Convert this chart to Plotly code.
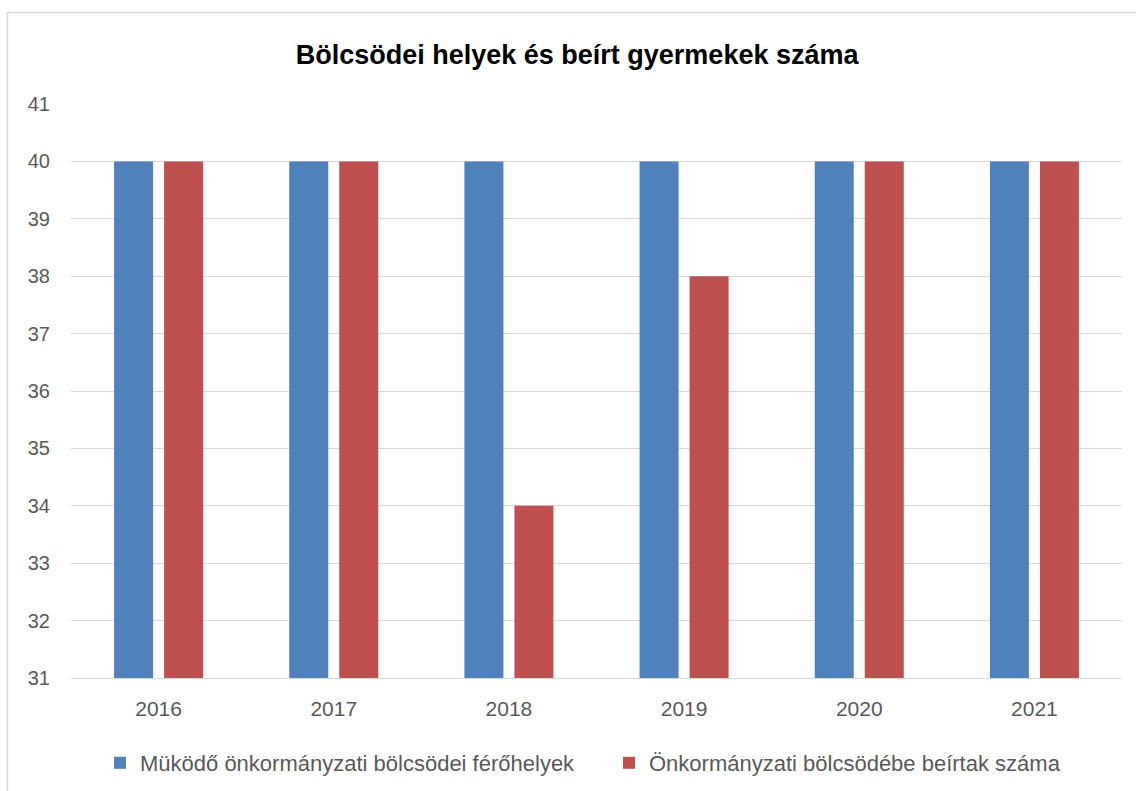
import plotly.graph_objects as go

years = ["2016", "2017", "2018", "2019", "2020", "2021"]
ferohelyek = [40, 40, 40, 40, 40, 40]
beirtak = [40, 40, 34, 38, 40, 40]
series_names = ["Müködő önkormányzati bölcsödei férőhelyek",
                "Önkormányzati bölcsödébe beírtak száma"]
title_text = "Bölcsödei helyek és beírt gyermekek száma"

FONT = "Liberation Sans"
W, H = 1136, 791
L, R, T, B = 71, 14, 104, 113

fig = go.Figure()
fig.add_trace(go.Bar(x=years, y=ferohelyek, name=series_names[0],
                     marker=dict(color="#4F81BD", line=dict(width=0))))
fig.add_trace(go.Bar(x=years, y=beirtak, name=series_names[1],
                     marker=dict(color="#C0504D", line=dict(width=0))))

pw = W - L - R
ph = H - T - B
def px_x(p):
    return (p - L) / pw
def px_y(p):
    return (H - B - p) / ph

fig.update_layout(
    width=W, height=H,
    margin=dict(l=L, r=R, t=T, b=B),
    paper_bgcolor="white", plot_bgcolor="white",
    barmode="group", bargap=0.429, bargroupgap=0.22,
    title=dict(text="<b>" + title_text + "</b>", x=0.508, xanchor="center",
               y=1 - 55 / H, yanchor="middle", xref="container", yref="container",
               font=dict(family=FONT, size=27, color="black")),
    font=dict(family=FONT, size=20, color="#595959"),
    xaxis=dict(showgrid=False, showline=True, linecolor="#D9D9D9", linewidth=1,
               ticks="", ticklabelstandoff=12,
               tickfont=dict(family=FONT, size=21, color="#595959")),
    yaxis=dict(range=[31, 41], dtick=1, tick0=31, showgrid=True, gridcolor="#D9D9D9",
               gridwidth=1, zeroline=False, showline=False, ticks="",
               ticklabelstandoff=20,
               tickfont=dict(family=FONT, size=20, color="#595959")),
    legend=dict(orientation="h", xref="container", yref="container",
                x=100 / W, xanchor="left", y=1 - 763 / H, yanchor="middle",
                font=dict(family=FONT, size=22, color="#595959"),
                itemwidth=30, tracegroupgap=0, entrywidth=464, entrywidthmode="pixels"),
    showlegend=True,
    shapes=[dict(type="rect", xref="paper", yref="paper",
                 x0=px_x(7.5), x1=px_x(1145), y0=px_y(800), y1=px_y(12.5),
                 line=dict(color="#D9D9D9", width=1.5), fillcolor="rgba(0,0,0,0)",
                 layer="below")],
)

fig.write_html("out.html", config={"displayModeBar": False},
               post_script="document.body.style.margin='0px';")
